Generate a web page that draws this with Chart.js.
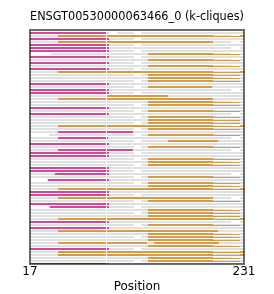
<!DOCTYPE html>
<html><head><meta charset="utf-8">
<script src="https://cdn.jsdelivr.net/npm/chart.js@4.4.1/dist/chart.umd.min.js"></script>
<style>html,body{margin:0;padding:0;background:#fff}canvas{display:block}</style>
</head><body>
<canvas id="c" width="274" height="294"></canvas>
<script>
const chartTitle = 'ENSGT00530000063466_0 (k-cliques)';
const axisTitle = 'Position';
const xTicks = [17, 231];
const rowCount = 78;

// pink (magenta) segments
const pinkRows  = [0,2,4,5,6,8,10,12,17,19,20,25,27,33,35,37,39,40,41,45,46,47,49,53,54,57,58,63,65,72,77];
const pinkStart = [17,17,17,17,17,17,17,17,17,17,17,17,17,45,45,17,45,17,17,17,17,42,35,17,17,17,37,17,17,17,17];
const pinkEnd   = [94,96,96,96,96,96,96,96,96,96,96,96,96,120,95,96,120,96,96,96,96,96,96,96,96,96,96,96,96,96,96];

// thick orange segments
const orangeRows  = [1,3,13,21,22,31,36,52,55,62,66,70,70,73,74,
                     7,9,11,14,15,16,18,23,24,26,28,29,30,32,34,38,42,43,44,48,50,51,56,59,60,61,64,67,68,69,71,75,76];
const orangeStart = [45,45,45,94,45,45,155,45,45,45,45,45,141,45,45,
                     135,135,135,135,135,135,135,135,135,135,135,135,135,135,135,135,135,135,135,135,135,135,135,135,135,135,135,135,135,135,135,135,135];
const orangeEnd   = [200,200,200,155,200,200,205,200,200,200,205,134,206,200,200,
                     200,200,200,200,200,200,199,200,200,200,200,200,200,200,200,200,200,200,200,200,200,200,200,200,200,200,200,200,200,200,200,200,200];

// thin orange tails
const tailRows  = [1,13,31,52,62,73,74,
                   7,9,11,14,15,16,23,24,26,28,29,30,32,34,38,42,43,44,48,50,51,56,59,60,61,64,67,68,69,71,75,76];
const tailStart = [200,200,200,200,200,200,200,
                   200,200,200,200,200,200,200,200,200,200,200,200,200,200,200,200,200,200,200,200,200,200,200,200,200,200,200,200,200,200,200,200];
const tailEnd   = [227,227,227,227,227,227,227,
                   227,227,227,227,227,227,227,227,227,227,227,227,227,227,227,227,227,227,227,227,227,227,227,227,227,227,227,227,227,227,227,227];

// short thick orange caps at the right edge
const capRows  = [1,13,31,52,62,73,74];
const capStart = [227,227,227,227,227,227,227];
const capEnd   = [231,231,231,231,231,231,231];

// white gaps in the grey background (row, start, end)
const gapRows  = [0,0,2,4,6,8,10,12,14,16,18,20,22,24,26,28,30,32,34,36,38,40,42,44,46,48,50,52,54,56,58,60,62,64,66,68,70,72,74,76,
                  1,3,5,7,9,11,15,19,23,27,31,35,39,43,47,51,55,59,63,67,71,75, 7, 34, 49, 58];
const gapStart = [96,121,121,121,121,121,121,121,121,121,121,121,121,121,121,121,121,121,121,121,121,121,121,121,121,121,121,121,121,121,121,121,121,121,121,121,121,121,121,121,
                  218,218,218,218,218,218,218,218,218,218,218,218,218,218,218,218,218,218,218,218,218,218, 18, 18, 18, 18];
const gapEnd   = [104,128,128,128,128,128,128,128,128,128,128,128,128,128,128,128,128,128,128,128,128,128,128,128,128,128,128,128,128,128,128,128,128,128,128,128,128,128,128,128,
                  227,227,227,227,227,227,227,227,227,227,227,227,227,227,227,227,227,227,227,227,227,227, 38, 36, 34, 36];

// white gap column crossing all rows
const gapColStart = 93;
const gapColEnd = 94;

const C_PINK = '#d4479b', C_ORANGE = '#d69b44', C_GRAY = '#e0e0e0';

function segs(rows, s, e, dy) { return rows.map((r, i) => ({x: [s[i], e[i]], y: r + (dy || 0)})); }
const allRows = Array.from({length: rowCount}, (_, i) => i);

Chart.defaults.font.family = 'DejaVu Sans';
Chart.defaults.color = '#000';

const framePlugin = {
  id: 'frame',
  afterDatasetsDraw(chart) {
    const {ctx, chartArea: a} = chart;
    ctx.save();
    ctx.strokeStyle = 'rgba(0,0,0,0.57)';
    ctx.lineWidth = 2;
    ctx.strokeRect(a.left, a.top, a.right - a.left, a.bottom - a.top);
    ctx.restore();
  }
};

const common = {grouped: false, inflateAmount: 0, borderWidth: 0};

new Chart(document.getElementById('c'), {
  type: 'bar',
  data: {
    datasets: [
      {...common, label: 'gapcol', data: allRows.map(r => ({x: [gapColStart, gapColEnd], y: r})), backgroundColor: '#ffffff', barThickness: 2, order: 1},
      {...common, label: 'pink', data: segs(pinkRows, pinkStart, pinkEnd), backgroundColor: C_PINK, barThickness: 2, order: 2},
      {...common, label: 'orange', data: segs(orangeRows, orangeStart, orangeEnd), backgroundColor: C_ORANGE, barThickness: 2, order: 3},
      {...common, label: 'cap', data: segs(capRows, capStart, capEnd), backgroundColor: C_ORANGE, barThickness: 2, order: 3},
      {...common, label: 'tail', data: segs(tailRows, tailStart, tailEnd, 1/6), backgroundColor: C_ORANGE, barThickness: 1, order: 4},
      {...common, label: 'gaps', data: segs(gapRows, gapStart, gapEnd), backgroundColor: '#ffffff', barThickness: 2, order: 5},
      {...common, label: 'bg', data: allRows.map(r => ({x: [17, 231], y: r})), backgroundColor: C_GRAY, barThickness: 2, order: 6}
    ]
  },
  options: {
    indexAxis: 'y',
    responsive: false,
    animation: false,
    devicePixelRatio: 1,
    layout: {padding: {left: 30, right: 30, top: 0, bottom: 0}},
    plugins: {
      legend: {display: false},
      tooltip: {enabled: false},
      title: {display: true, text: chartTitle, font: {size: 12, weight: 'normal'}, color: '#000', padding: {top: 10, bottom: 5.6}}
    },
    scales: {
      x: {
        type: 'linear', min: 17, max: 231,
        afterBuildTicks: s => { s.ticks = xTicks.map(v => ({value: v})); },
        ticks: {font: {size: 12}, color: '#000', padding: 0.6, maxRotation: 0, autoSkip: false},
        grid: {display: false, drawTicks: false},
        border: {display: false},
        title: {display: true, text: axisTitle, font: {size: 12}, color: '#000', padding: 0}
      },
      y: {type: 'linear', min: -1, max: 77, reverse: true, display: false, offset: false}
    }
  },
  plugins: [framePlugin]
});
</script>
</body></html>
